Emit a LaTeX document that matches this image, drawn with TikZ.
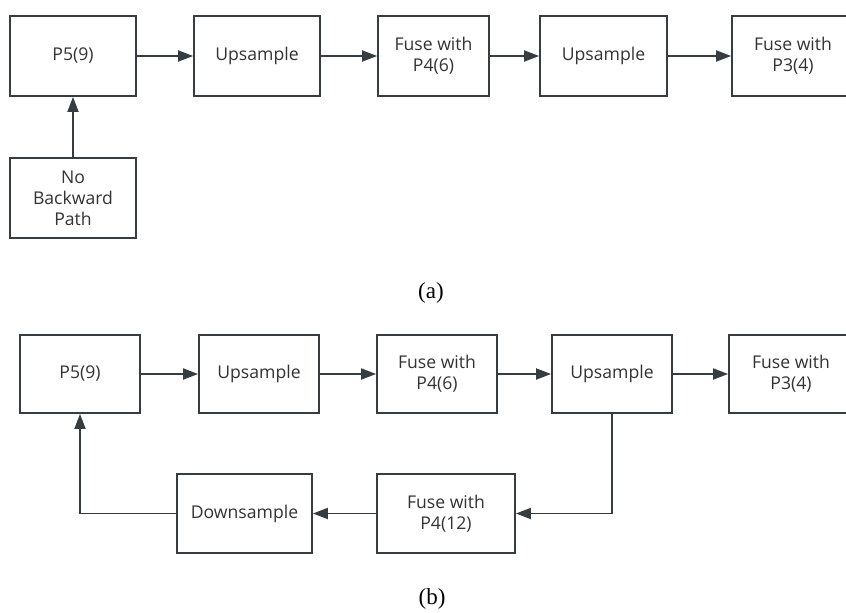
\documentclass[tikz,border=0pt]{standalone}
\usepackage{fontspec}
\setmainfont{Liberation Serif}
\newfontfamily\boxfont{Open Sans}
\usetikzlibrary{arrows.meta}
\definecolor{edgecol}{HTML}{353C42}
\definecolor{txtcol}{HTML}{333333}
\tikzset{
  blk/.style={draw=edgecol, line width=1.8pt, fill=white, inner sep=0pt,
    align=center, text=txtcol, font=\boxfont\fontsize{17.6}{21}\selectfont,
    minimum height=80pt},
  conn/.style={draw=edgecol, line width=1.8pt,
    -{Triangle[length=15pt, width=11pt]}},
  captext/.style={font=\fontsize{23}{26}\selectfont, text=black}
}
\begin{document}
\begin{tikzpicture}[x=1pt, y=-1pt]
\clip (0,0) rectangle (846,613);
\fill[white] (0,0) rectangle (846,613);
% (a)
\node[blk, minimum width=126pt] (p5a) at (73,56) {P5(9)};
\node[blk, minimum width=126pt] (upa) at (257,56) {Upsample};
\node[blk, minimum width=111pt] (f4a) at (433.5,56) {Fuse with\\P4(6)};
\node[blk, minimum width=127pt] (up2a) at (603.5,56) {Upsample};
\node[blk, minimum width=122pt] (f3a) at (793,56) {Fuse with\\P3(4)};
\node[blk, minimum width=126pt] (nba) at (73,198) {No\\Backward\\Path};
\draw[conn] (p5a) -- (upa);
\draw[conn] (upa) -- (f4a);
\draw[conn] (f4a) -- (up2a);
\draw[conn] (up2a) -- (f3a);
\draw[conn] (nba) -- (p5a);
\node[captext] (capa) at (431,293) {(a)};
% (b)
\node[blk, minimum width=120pt, minimum height=78pt] (p5b) at (80,374) {P5(9)};
\node[blk, minimum width=120pt, minimum height=78pt] (upb) at (259,374) {Upsample};
\node[blk, minimum width=120pt, minimum height=78pt] (f4b) at (437,374) {Fuse with\\P4(6)};
\node[blk, minimum width=120pt, minimum height=78pt] (up2b) at (612,374) {Upsample};
\node[blk, minimum width=124pt, minimum height=78pt] (f3b) at (791,374) {Fuse with\\P3(4)};
\node[blk, minimum width=135pt, minimum height=79pt] (dsb) at (244.5,513.5) {Downsample};
\node[blk, minimum width=138pt, minimum height=79pt] (f12b) at (446,513.5) {Fuse with\\P4(12)};
\draw[conn] (p5b) -- (upb);
\draw[conn] (upb) -- (f4b);
\draw[conn] (f4b) -- (up2b);
\draw[conn] (up2b) -- (f3b);
\draw[conn] (up2b.south) |- (f12b.east);
\draw[conn] (f12b) -- (dsb);
\draw[conn] (dsb.west) -| (p5b.south);
\node[captext] (capb) at (432,599) {(b)};
\end{tikzpicture}
\end{document}
